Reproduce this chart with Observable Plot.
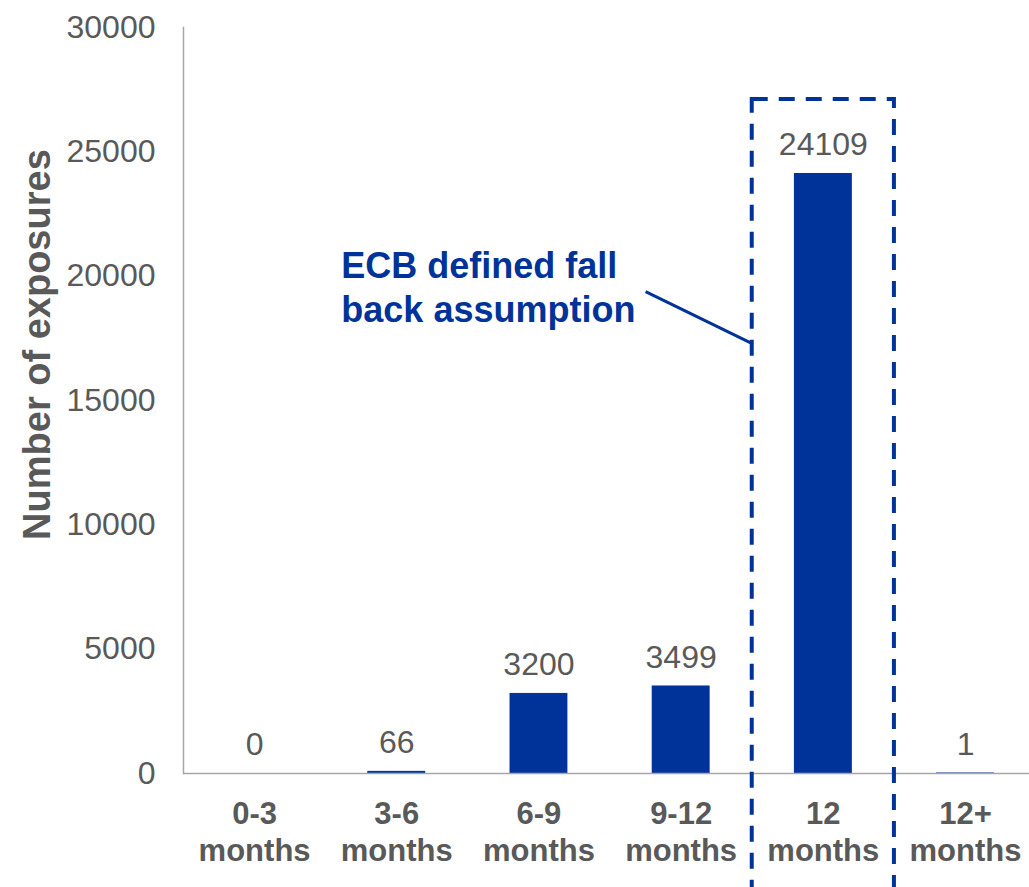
<!DOCTYPE html>
<html>
<head>
<meta charset="utf-8">
<script src="https://cdn.jsdelivr.net/npm/d3@7"></script>
<script src="https://cdn.jsdelivr.net/npm/@observablehq/plot@0.6"></script>
<style>
  html, body { margin: 0; padding: 0; background: #ffffff; }
  #chart svg { display: block; }
</style>
</head>
<body>
<div id="chart"></div>
<script>
// ---- data ----
const categories = ["0-3\nmonths", "3-6\nmonths", "6-9\nmonths", "9-12\nmonths", "12\nmonths", "12+\nmonths"];
const exposures = [0, 66, 3200, 3499, 24109, 1];
const yTicks = [0, 5000, 10000, 15000, 20000, 25000, 30000];
const yTitle = "Number of exposures";
const annotationLines = ["ECB defined fall", "back assumption"];
const annotationY = [20390, 18620];
const annotationX = 0.61;
const highlightIndex = 4;          // "12 months" box
const boxTop = 27100;
const boxBottom = -6000;
const leaderStart = {x: 2.75, y: 19380};
const leaderEnd = {x: 3.5, y: 17290};

const data = categories.map((c, i) => ({i, cat: c, value: exposures[i]}));

const blue = "#003399";
const grey = "#595959";
const axisGrey = "#a6a6a6";

const chart = Plot.plot({
  width: 1029,
  height: 887,
  marginLeft: 183,
  marginRight: 0,
  marginTop: 27,
  marginBottom: 114,
  style: {
    fontFamily: "'Liberation Sans', Arial, sans-serif",
    fontSize: "32px",
    color: grey,
    background: "#ffffff",
    overflow: "hidden"
  },
  x: {type: "linear", domain: [-0.5, 5.45]},
  y: {domain: [0, 30000]},
  marks: [
    Plot.axisY({ticks: yTicks, tickSize: 0, tickPadding: 28, tickFormat: d3.format("d"), label: null, fill: grey, fontSize: 32}),
    Plot.axisX({ticks: data.map(d => d.i), tickSize: 0, tickPadding: 24, tickFormat: i => categories[i], label: null, fill: grey, fontWeight: "bold", fontSize: 31, lineHeight: 1.2}),
    Plot.frame({anchor: "left", stroke: axisGrey, strokeWidth: 1.5}),
    Plot.rectY(data, {x1: d => d.i - 0.2, x2: d => d.i + 0.2, y: "value", fill: blue}),
    Plot.rectY(data.filter(d => d.value > 0), {x1: d => d.i - 0.2, x2: d => d.i + 0.2, y: "value", fill: blue, stroke: blue, strokeWidth: 1}),
    Plot.ruleY([0], {stroke: axisGrey, strokeWidth: 1.5}),
    Plot.text(data, {x: "i", y: "value", text: d => String(d.value), dy: -29, lineAnchor: "middle", fill: grey, fontSize: 32}),
    Plot.rect([{x1: highlightIndex - 0.5, x2: highlightIndex + 0.5, y1: boxBottom, y2: boxTop}], {
      x1: "x1", x2: "x2", y1: "y1", y2: "y2", fill: "none", stroke: blue, strokeWidth: 4, strokeDasharray: "16,11", clip: false
    }),
    Plot.link([{...leaderStart, x2: leaderEnd.x, y2: leaderEnd.y}], {x1: "x", y1: "y", x2: "x2", y2: "y2", stroke: blue, strokeWidth: 3}),
    Plot.text(annotationLines, {x: () => annotationX, y: (d, i) => annotationY[i], text: d => d, textAnchor: "start", lineAnchor: "middle", fill: blue, fontWeight: "bold", fontSize: 36}),
    Plot.text([yTitle], {frameAnchor: "left", y: () => 17250, dx: -146, rotate: -90, text: d => d, fill: grey, fontWeight: "bold", fontSize: 38, textAnchor: "middle"})
  ]
});
document.getElementById("chart").appendChild(chart);
</script>
</body>
</html>
